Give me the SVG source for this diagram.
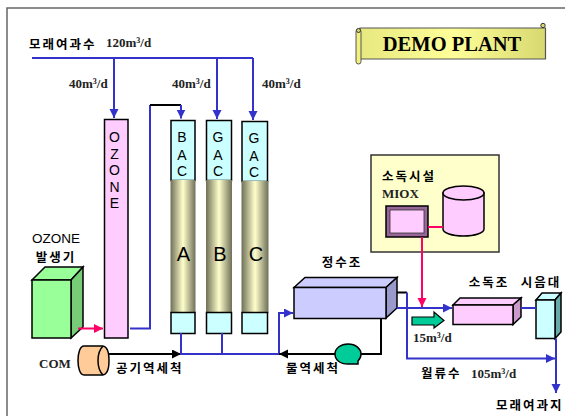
<svg xmlns="http://www.w3.org/2000/svg" width="565" height="416" viewBox="0 0 565 416">
<style>
.ko{font-family:"Noto Sans CJK KR","Noto Sans",sans-serif;font-size:12.500px;font-weight:700;fill:#000;letter-spacing:2px}
.en{font-family:"Liberation Serif",serif;font-size:13px;font-weight:bold;fill:#222}
.sans{font-family:"Liberation Sans",sans-serif;fill:#000;text-anchor:middle}
.s{stroke:#000;stroke-width:1.500}
.b{fill:none;stroke:#3333cc;stroke-width:2}
.k{fill:none;stroke:#000;stroke-width:2}
.p{fill:none;stroke:#ff0066;stroke-width:2}
</style>
<defs>
<linearGradient id="tube" x1="0" x2="1" y1="0" y2="0"><stop offset="0" stop-color="#6f6f58"/><stop offset=".5" stop-color="#ffffcc"/><stop offset="1" stop-color="#6f6f58"/></linearGradient>
<linearGradient id="ban" x1="0" x2="1" y1="0" y2="0"><stop offset="0" stop-color="#e8e880"/><stop offset=".5" stop-color="#ffff99"/><stop offset="1" stop-color="#d8d870"/></linearGradient>
<marker id="ab" markerUnits="userSpaceOnUse" markerWidth="11" markerHeight="11" refX="9" refY="4.500" orient="auto"><path d="M0 0L9 4.500L0 9z" fill="#3333cc"/></marker>
<marker id="ak" markerUnits="userSpaceOnUse" markerWidth="11" markerHeight="11" refX="9" refY="4.500" orient="auto"><path d="M0 0L9 4.500L0 9z" fill="#000"/></marker>
<marker id="ap" markerUnits="userSpaceOnUse" markerWidth="11" markerHeight="11" refX="9" refY="4.500" orient="auto"><path d="M0 0L9 4.500L0 9z" fill="#ff0066"/></marker>
</defs>
<rect width="565" height="416" fill="#fff"/>
<path d="M7 416V8H565" fill="none" stroke="#666" stroke-width="1.500"/>

<g id="banner">
<path d="M360 28H545.500V59H360z" fill="url(#ban)" stroke="#555" stroke-width="1.200"/>
<rect x="356" y="29" width="5" height="35" rx="2.500" fill="#f0f080" stroke="#555"/>
<circle cx="358.500" cy="30.500" r="2" fill="#d8d870" stroke="#333"/>
<circle cx="543" cy="25.500" r="2.200" fill="#d8d870" stroke="#333"/>
<text x="452" y="51" text-anchor="middle" style="font-family:'Liberation Serif',serif;font-weight:bold;font-size:20.500px;fill:#000">DEMO PLANT</text>
</g>

<g id="ozone-col">
<rect x="104.500" y="119.500" width="23.500" height="218.500" fill="#ffccff" class="s"/>
<g class="sans" font-size="14"><text x="114.500" y="142">O</text><text x="114.500" y="159">Z</text><text x="114.500" y="175">O</text><text x="114.500" y="192">N</text><text x="114.500" y="208">E</text></g>
</g>
<g id="bac-a">
<rect x="171" y="120.500" width="24" height="60" fill="#ccffff" class="s"/>
<rect x="170.500" y="180" width="25" height="133" fill="url(#tube)"/>
<rect x="171" y="312.500" width="24" height="21" fill="#ccffff" class="s"/>
<g class="sans" font-size="14"><text x="182" y="142">B</text><text x="182" y="160">A</text><text x="182" y="176">C</text></g>
<text x="183.500" y="261" class="sans" font-size="20">A</text>
</g>
<g id="gac-b">
<rect x="206.500" y="120.500" width="25" height="60" fill="#ccffff" class="s"/>
<rect x="206" y="180" width="26" height="133" fill="url(#tube)"/>
<rect x="206.500" y="312.500" width="25" height="21" fill="#ccffff" class="s"/>
<g class="sans" font-size="14"><text x="218" y="142">G</text><text x="218" y="160">A</text><text x="218" y="176">C</text></g>
<text x="220" y="261" class="sans" font-size="20">B</text>
</g>
<g id="gac-c">
<rect x="242" y="121.500" width="25.500" height="60" fill="#ccffff" class="s"/>
<rect x="241.500" y="181" width="27" height="132" fill="url(#tube)"/>
<rect x="242" y="312.500" width="25.500" height="21" fill="#ccffff" class="s"/>
<g class="sans" font-size="14"><text x="254" y="143">G</text><text x="254" y="161">A</text><text x="254" y="177">C</text></g>
<text x="256" y="261" class="sans" font-size="20">C</text>
</g>

<g id="ozone-gen">
<path d="M32 280L45 267H83L71 280z" class="s" style="fill:#99ff99"/>
<path d="M71 280L83 267V327L71 338z" fill="#77cc77" class="s"/>
<rect x="32" y="280" width="39" height="58" fill="#99ff99" class="s"/>
<text x="56" y="243" class="sans" font-size="13.500">OZONE</text>
<text x="56" y="262" class="ko" text-anchor="middle">발생기</text>
</g>

<g id="com">
<path d="M84 346H102C107 346 109 353 109 360.500S107 375 102 375H84C80 375 78 368 78 360.500S80 346 84 346z" fill="#ffcc99" class="s"/>
<path d="M103 346C99 350 98 356 98 360.500S99 371 103 375" fill="none" class="s"/>
<text x="39" y="368" class="en">COM</text>
</g>

<g id="tank">
<path d="M294 287.500L305 277.500H397L386 287.500z" fill="#ccccff" class="s"/>
<path d="M386 287.500L397 277.500V308L386 318z" fill="#9999cc" class="s"/>
<rect x="294" y="287.500" width="92" height="31" fill="#ccccff" class="s"/>
<text x="342" y="267" class="ko" text-anchor="middle">정수조</text>
</g>

<g id="pump">
<path d="M348 344C356 344 361 349 361 354C361 357 360 359 358 361V364H348C340 364 335 360 335 354C335 348 341 344 348 344z" fill="#00cc99" class="s"/>
</g>

<g id="disinfect-box">
<rect x="371" y="155" width="128" height="97" fill="#ffffcc" stroke="#333" stroke-width="1.500"/>
<text x="382" y="181" class="ko">소독시설</text>
<text x="382" y="198" class="en">MIOX</text>
</g>
<g id="miox">
<rect x="386" y="206" width="42" height="31" fill="#996699" class="s"/>
<rect x="390" y="210" width="34" height="23" fill="#ffccff" stroke="#333" stroke-width=".8"/>
</g>
<g id="cyl">
<path d="M443 193V229C443 233 452 236 463.500 236S484 233 484 229V193z" fill="#ffccff" class="s"/>
<ellipse cx="463.500" cy="193" rx="20.500" ry="7" fill="#ffccff" class="s"/>
</g>

<g id="contact">
<path d="M453 305L460 298H521L513 305z" fill="#ffccff" class="s"/>
<path d="M513 305L521 298V317L513 324.500z" fill="#cc99cc" class="s"/>
<rect x="453" y="305" width="60" height="19.500" fill="#ffccff" class="s"/>
<text x="489" y="287" class="ko" text-anchor="middle">소독조</text>
</g>
<g id="tap">
<path d="M536 300L542 293H561L555 300z" fill="#ccffff" class="s"/>
<path d="M555 300L561 293V332L555 338.500z" fill="#66aaaa" class="s"/>
<rect x="536" y="300" width="19" height="38.500" fill="#ccffff" class="s"/>
<text x="541" y="287" class="ko" text-anchor="middle">시음대</text>
</g>

<g id="connectors">
<path class="b" d="M32 58H253"/>
<path class="b" d="M114 58V118" marker-end="url(#ab)"/>
<path class="b" d="M217 58V119" marker-end="url(#ab)"/>
<path class="b" d="M253 58V120" marker-end="url(#ab)"/>
<path class="b" d="M130 328.500H150V105"/>
<path class="k" d="M150 105H181"/>
<path class="b" d="M181 105V118.500" marker-end="url(#ab)"/>
<path class="p" d="M78 328.500H103" marker-end="url(#ap)"/>
<path class="k" d="M109 354H181" marker-end="url(#ak)"/>
<path class="b" d="M181 333V354H279V313H293" marker-end="url(#ab)"/>
<path class="b" d="M222 333V354"/>
<path class="k" d="M381 318V354H361"/>
<path class="k" d="M335 354H279" marker-end="url(#ak)"/>
<path class="k" d="M397 292.500H407"/>
<path class="b" d="M407 292.500V358.500H555" marker-end="url(#ab)"/>
<path class="b" d="M397 308H452" marker-end="url(#ab)"/>
<path class="p" d="M422 237V307" marker-end="url(#ap)"/>
<path class="p" d="M428 227H443"/>
<path class="b" d="M521 308H536"/>
<path class="b" d="M556 338.500V393" marker-end="url(#ab)"/>
<path d="M412 317H434V312L444 320.500L434 328V325H412z" fill="#00cc99" stroke="#000" stroke-width="1.200"/>
</g>

<g id="labels">
<text x="29" y="49" class="ko">모래여과수</text>
<text x="106" y="47" class="en">120m<tspan font-size="8" dy="-4">3</tspan><tspan dy="4">/d</tspan></text>
<text x="69" y="88" class="en">40m<tspan font-size="8" dy="-4">3</tspan><tspan dy="4">/d</tspan></text>
<text x="172" y="88" class="en">40m<tspan font-size="8" dy="-4">3</tspan><tspan dy="4">/d</tspan></text>
<text x="262" y="88" class="en">40m<tspan font-size="8" dy="-4">3</tspan><tspan dy="4">/d</tspan></text>
<text x="116" y="373" class="ko">공기역세척</text>
<text x="286" y="373" class="ko">물역세척</text>
<text x="413" y="342" class="en">15m<tspan font-size="8" dy="-4">3</tspan><tspan dy="4">/d</tspan></text>
<text x="421" y="378" class="ko">월류수</text>
<text x="471" y="378" class="en">105m<tspan font-size="8" dy="-4">3</tspan><tspan dy="4">/d</tspan></text>
<text x="496" y="410" class="ko">모래여과지</text>
</g>
</svg>
